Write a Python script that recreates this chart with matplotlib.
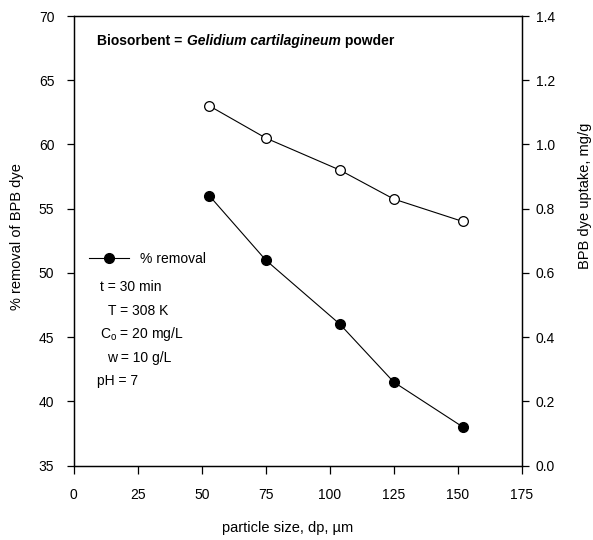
import matplotlib.pyplot as plt
import numpy as np

plt.rcParams['font.family'] = ['Liberation Sans', 'DejaVu Sans']
plt.rcParams['mathtext.fontset'] = 'custom'
plt.rcParams['mathtext.rm'] = 'Liberation Sans'

# particle size (um), % removal and dye uptake (mg/g)
dp = [53, 75, 104, 125, 152]
removal = [56.0, 51.0, 46.0, 41.5, 38.0]
uptake = [1.12, 1.02, 0.92, 0.83, 0.76]

x_ticks = [0, 25, 50, 75, 100, 125, 150, 175]
y_ticks = [35, 40, 45, 50, 55, 60, 65, 70]
y2_ticks = [0.0, 0.2, 0.4, 0.6, 0.8, 1.0, 1.2, 1.4]

conditions = ['t = 30 min', 'T = 308 K', r'C$_\mathrm{o}$ = 20 mg/L', 'w = 10 g/L', 'pH = 7']
cond_x = [0.059, 0.077, 0.059, 0.074, 0.051]

fs = 10
lfs = 10.5
fig = plt.figure(figsize=(5.93, 5.40), dpi=100)
ax = fig.add_axes([73.7 / 593, 74.5 / 540, 448 / 593, 449.5 / 540])
ax2 = ax.twinx()

ax.plot(dp, removal, color='black', lw=0.8, marker='o', ms=7,
        mfc='black', mec='black', label='% removal')
ax2.plot(dp, uptake, color='black', lw=0.8, marker='o', ms=7,
         mfc='white', mec='black', mew=0.9)

ax.set_xlim(0, 175)
ax.set_ylim(35, 70)
ax2.set_ylim(0, 1.4)
ax.set_xticks(x_ticks)
ax.set_yticks(y_ticks)
ax2.set_yticks(y2_ticks)
ax2.set_yticklabels([f'{v:.1f}' for v in y2_ticks])

for a in (ax, ax2):
    for s in a.spines.values():
        s.set_linewidth(0.9)
ax.tick_params(axis='x', direction='out', length=6, width=0.9, pad=10, labelsize=fs)
ax.tick_params(axis='y', direction='out', length=5, width=0.9, pad=9, labelsize=fs)
ax2.tick_params(axis='y', direction='out', length=5, width=0.9, pad=5, labelsize=fs)

ax.set_xlabel('particle size, dp, \u00b5m', fontsize=lfs)
ax.xaxis.set_label_coords(0.478, -0.124)
ax.set_ylabel('% removal of BPB dye', fontsize=lfs)
ax.yaxis.set_label_coords(-0.112, 0.51)
ax2.set_ylabel('BPB dye uptake, mg/g', fontsize=lfs)
ax2.yaxis.set_label_coords(1.125, 0.6)

# title line: bold, with the species name in bold italic
t1 = ax.text(0.053, 0.945, 'Biosorbent = ', transform=ax.transAxes,
             fontsize=fs, fontweight='bold', va='center')
t2 = ax.annotate('Gelidium cartilagineum', xy=(1, 0.5), xycoords=t1,
                 va='center', fontsize=fs, fontweight='bold', style='italic')
ax.annotate(' powder', xy=(1, 0.5), xycoords=t2, va='center',
            fontsize=fs, fontweight='bold')

ax.legend(loc='center left', bbox_to_anchor=(0.018, 0.459), frameon=False,
          fontsize=fs, handlelength=2.9, handletextpad=0.8, borderpad=0)

for i, (txt, cx) in enumerate(zip(conditions, cond_x)):
    ax.text(cx, 0.397 - i * 0.0525, txt, transform=ax.transAxes,
            fontsize=fs, va='center')

fig.savefig('out.png', dpi=100)
